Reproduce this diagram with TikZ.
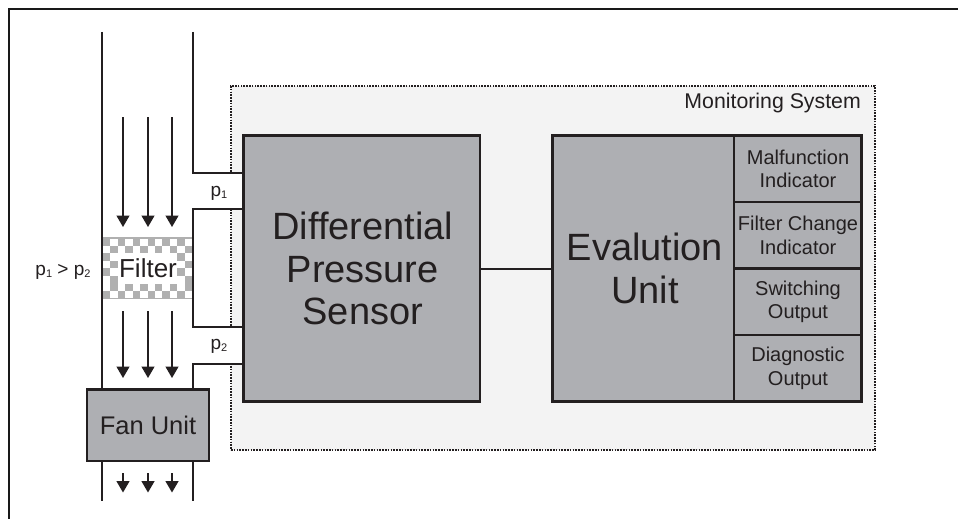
\documentclass[tikz,border=0pt]{standalone}
\usepackage{fontspec}
\setmainfont{Liberation Sans}
\usetikzlibrary{arrows.meta}
\definecolor{boxgrey}{HTML}{AEAFB3}
\definecolor{chk}{HTML}{B0B0B0}
\definecolor{monbg}{HTML}{F3F3F3}
\definecolor{ink}{HTML}{231F20}
\newcommand{\fs}[2]{\fontsize{#1}{#2}\selectfont}
\newcommand{\sbs}[1]{{\raisebox{-0.15em}{\fontsize{11}{11}\selectfont #1}}}
\tikzset{
  duct/.style={draw=ink,line width=1.8pt},
  flow/.style={draw=ink,line width=1.4pt,-{Triangle[width=13pt,length=11.5pt]}},
  greybox/.style={draw=ink,line width=2.8pt,fill=boxgrey,inner sep=0pt,outer sep=0pt,text=ink,align=center,anchor=north west},
  cellbox/.style={draw=ink,line width=2.2pt,fill=boxgrey,inner sep=0pt,outer sep=0pt,anchor=north west,text=ink,align=center,minimum width=127.4pt,minimum height=66.5pt},
  lab/.style={inner sep=0pt,text=ink}
}
\begin{document}
\begin{tikzpicture}[x=1pt,y=-1pt]
\useasboundingbox (0,0) rectangle (958,519);
\fill[white] (0,0) rectangle (958,519);
\coordinate (frA) at (8.5,519); \coordinate (frB) at (8.5,9); \coordinate (frC) at (958,9);
\draw[line width=2pt,draw=black!90] (frA) -- (frB) -- (frC);
% monitoring system
\node[draw=ink,line width=1.8pt,dash pattern=on 1.6pt off 1.2pt,fill=monbg,anchor=north west,outer sep=0pt,minimum width=644pt,minimum height=364pt,inner sep=0pt] (mon) at (231,86) {};
\node[lab,anchor=base east,font=\fs{21.3}{24}] (monl) at (861,108) {Monitoring System};
% white stubs
\fill[white] (193,173) rectangle (243,209);
\fill[white] (193,327) rectangle (243,364);
% boxes
\node[greybox,minimum width=236.5pt,minimum height=266pt,font=\fs{38}{42.7}] (sensor) at (243.5,135.5) {\hspace*{2pt}Differential\\\hspace*{2pt}Pressure\\\hspace*{2pt}Sensor};
\node[greybox,minimum width=181.8pt,minimum height=266pt,font=\fs{38}{43}] (evalu) at (552.5,135.5) {\hspace*{3pt}Evalution\\\hspace*{3pt}Unit};
\node[cellbox,font=\fs{20}{23.5}] (c1) at (734.3,135.5) {Malfunction\\Indicator};
\node[cellbox,font=\fs{20}{23.5}] (c2) at (734.3,202) {Filter Change\\Indicator};
\node[cellbox,font=\fs{20}{23.5}] (c3) at (734.3,268.5) {Switching\\Output};
\node[cellbox,font=\fs{20}{23.5}] (c4) at (734.3,335) {Diagnostic\\Output};
\draw[draw=ink,line width=2.8pt] (evalu.north west) rectangle (c4.south east);
\draw[duct,line width=2pt] (sensor.east |- c3.north west) -- (evalu.west |- c3.north west);
% filter
\fill[chk] (103,237) rectangle (192,238.5);
\fill[chk] (103,297.5) rectangle (192,299);
\foreach \i in {0,...,11}{\foreach \j in {0,...,7}{
  \pgfmathtruncatemacro{\show}{(mod(\i+\j+(\j>5?1:0),2)==0) && (\i<2 || \i>9 || \j<2 || \j>5) ? 1 : 0}
  \ifnum\show=1
    \fill[chk] ({103+\i*7.42},{238+\j*7.6}) rectangle ++(7.42,7.6);
  \fi
}}
\node[lab,anchor=base,font=\fs{26}{28}] (filter) at (148,277) {Filter};
% ducts
\coordinate (dL0) at (102,32); \coordinate (dL1) at (102,389);
\coordinate (dR0) at (193,32); \coordinate (dR1) at (193,173);
\coordinate (s1) at (243,173); \coordinate (s2) at (243,209);
\coordinate (dR2) at (193,209); \coordinate (dR3) at (193,327);
\coordinate (s3) at (243,327); \coordinate (s4) at (243,364);
\coordinate (dR4) at (193,364); \coordinate (dR5) at (193,389);
\coordinate (dL2) at (102,461); \coordinate (dL3) at (102,501);
\coordinate (dR6) at (193,461); \coordinate (dR7) at (193,501);
\draw[duct] (dL0) -- (dL1);
\draw[duct] (dR0) -- (dR1) -- (s1);
\draw[duct] (s2) -- (dR2) -- (dR3) -- (s3);
\draw[duct] (s4) -- (dR4) -- (dR5);
\draw[duct] (dL2) -- (dL3);
\draw[duct] (dR6) -- (dR7);
\node[greybox,minimum width=122pt,minimum height=71.7pt,font=\fs{25.5}{28}] (fan) at (87,389.3) {Fan Unit};
% flow arrows
\foreach \x in {123,148,172}{
  \coordinate (a) at (\x,117); \coordinate (b) at (\x,227);
  \draw[flow] (a) -- (b);
  \coordinate (a) at (\x,311); \coordinate (b) at (\x,378);
  \draw[flow] (a) -- (b);
  \coordinate (a) at (\x,473); \coordinate (b) at (\x,492.5);
  \draw[flow] (a) -- (b);
}
% labels
\node[lab,anchor=base,font=\fs{19}{22}] (p1) at (219,196) {p\sbs{1}};
\node[lab,anchor=base,font=\fs{19}{22}] (p2) at (219,349) {p\sbs{2}};
\node[lab,anchor=base,font=\fs{19}{22}] (pp) at (63,275) {p\sbs{1} > p\sbs{2}};
\end{tikzpicture}
\end{document}
